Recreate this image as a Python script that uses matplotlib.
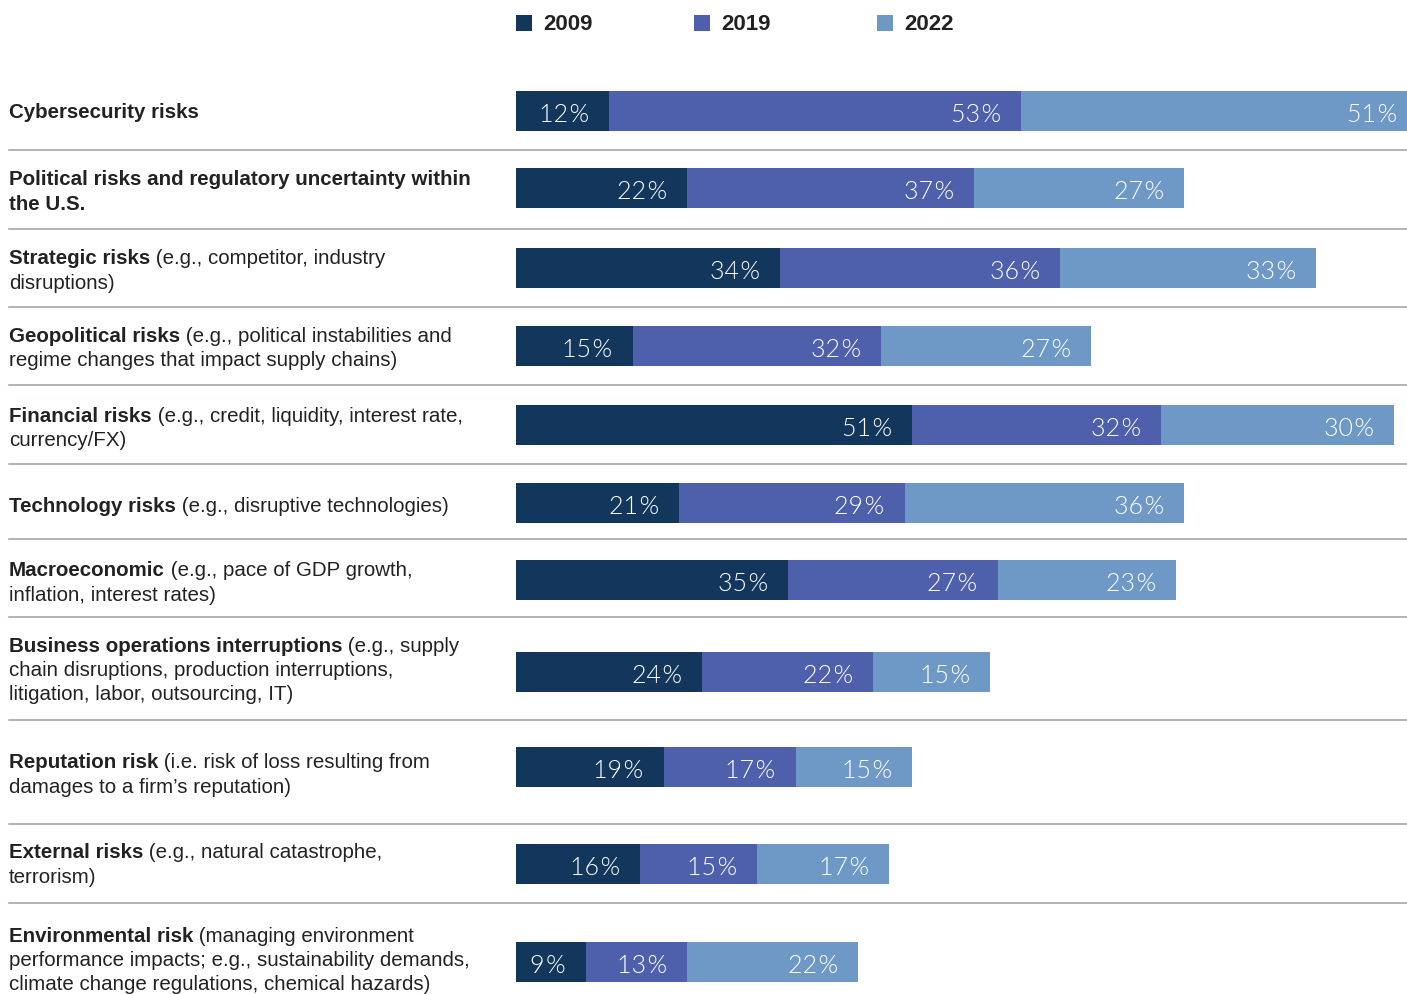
import matplotlib.pyplot as plt
from matplotlib.lines import Line2D
from matplotlib.patches import Rectangle

names = [
    "Cybersecurity risks",
    "Political risks and regulatory uncertainty within the U.S.",
    "Strategic risks",
    "Geopolitical risks",
    "Financial risks",
    "Technology risks",
    "Macroeconomic",
    "Business operations interruptions",
    "Reputation risk",
    "External risks",
    "Environmental risk",
]
# label text as it wraps in the original, bold name first
label_lines = [
    ["Cybersecurity risks"],
    ["Political risks and regulatory uncertainty within", "the U.S."],
    ["Strategic risks (e.g., competitor, industry", "disruptions)"],
    ["Geopolitical risks (e.g., political instabilities and",
     "regime changes that impact supply chains)"],
    ["Financial risks (e.g., credit, liquidity, interest rate,", "currency/FX)"],
    ["Technology risks (e.g., disruptive technologies)"],
    ["Macroeconomic (e.g., pace of GDP growth,", "inflation, interest rates)"],
    ["Business operations interruptions (e.g., supply",
     "chain disruptions, production interruptions,",
     "litigation, labor, outsourcing, IT)"],
    ["Reputation risk (i.e. risk of loss resulting from",
     "damages to a firm\u2019s reputation)"],
    ["External risks (e.g., natural catastrophe,", "terrorism)"],
    ["Environmental risk (managing environment",
     "performance impacts; e.g., sustainability demands,",
     "climate change regulations, chemical hazards)"],
]
years = ["2009", "2019", "2022"]
v2009 = [12, 22, 34, 15, 51, 21, 35, 24, 19, 16, 9]
v2019 = [53, 37, 36, 32, 32, 29, 27, 22, 17, 15, 13]
v2022 = [51, 27, 33, 27, 30, 36, 23, 15, 15, 17, 22]

colors = ["#12365c", "#4e5fab", "#6e98c6"]

# layout in pixels (figure is 1407 x 994)
W, H = 1407, 994
row_y = [111, 188, 268, 346, 425, 503, 580, 672, 767, 864, 962]
label_y = [113, 179.5, 259, 336, 416, 507, 571, 646, 763, 853, 936]
sep_y = [150, 229, 307, 385, 464, 539, 617, 720, 824, 903]
bar_x0 = 516
px_per_unit = 7.77
line_h = 24.5

fig = plt.figure(figsize=(W / 100, H / 100), dpi=100)

lay = fig.add_axes([0, 0, 1, 1])
lay.set_xlim(0, W)
lay.set_ylim(H, 0)
lay.axis("off")

ax = fig.add_axes([bar_x0 / W, 0, (W - bar_x0) / W, 1])
ax.set_xlim(0, (W - bar_x0) / px_per_unit)
ax.set_ylim(H, 0)
ax.axis("off")

lefts = [0] * len(names)
for vals, col in zip([v2009, v2019, v2022], colors):
    bars = ax.barh(row_y, vals, left=lefts, height=40, color=col, linewidth=0)
    for b, v in zip(bars, vals):
        ax.annotate(f"{v}\u200a%", xy=(b.get_x() + b.get_width(), b.get_y() + b.get_height() / 2),
                    xytext=(-14.5, -1), textcoords="offset points",
                    ha="right", va="center_baseline", color="white",
                    fontsize=18, family="Lato", fontweight=300, fontstyle="normal",
                    annotation_clip=False)
    lefts = [l + v for l, v in zip(lefts, vals)]

# separators
for y in sep_y:
    lay.add_line(Line2D([9, W], [y, y], color="#9aa0a8", lw=1.1))

# labels
txt_col = "#222222"
fs = 14.8
for name, lines, y0 in zip(names, label_lines, label_y):
    remaining = name
    for k, line in enumerate(lines):
        y = y0 + k * line_h
        if remaining and line.startswith(remaining[:len(line)]):
            bold = remaining[:len(line)]
            rest = line[len(bold):]
            remaining = remaining[len(bold):].strip()
        else:
            bold, rest = "", line
        if bold:
            t = lay.text(9, y, bold, ha="left", va="center", fontsize=fs,
                         fontweight="bold", family="Liberation Sans", color=txt_col)
            if rest:
                lay.annotate(rest, xy=(1, 0), xycoords=t, ha="left", va="bottom",
                             fontsize=fs, family="Liberation Sans", color=txt_col)
        else:
            lay.text(9, y, rest, ha="left", va="center", fontsize=fs,
                     family="Liberation Sans", color=txt_col)

# legend
for x, yr, col in zip([516, 694, 877], years, colors):
    lay.add_patch(Rectangle((x, 15), 16, 16, color=col, lw=0))
    lay.text(x + 27, 24, yr, ha="left", va="center", fontsize=16,
             fontweight="bold", family="Liberation Sans", color=txt_col)

fig.savefig("out.png", dpi=100)
